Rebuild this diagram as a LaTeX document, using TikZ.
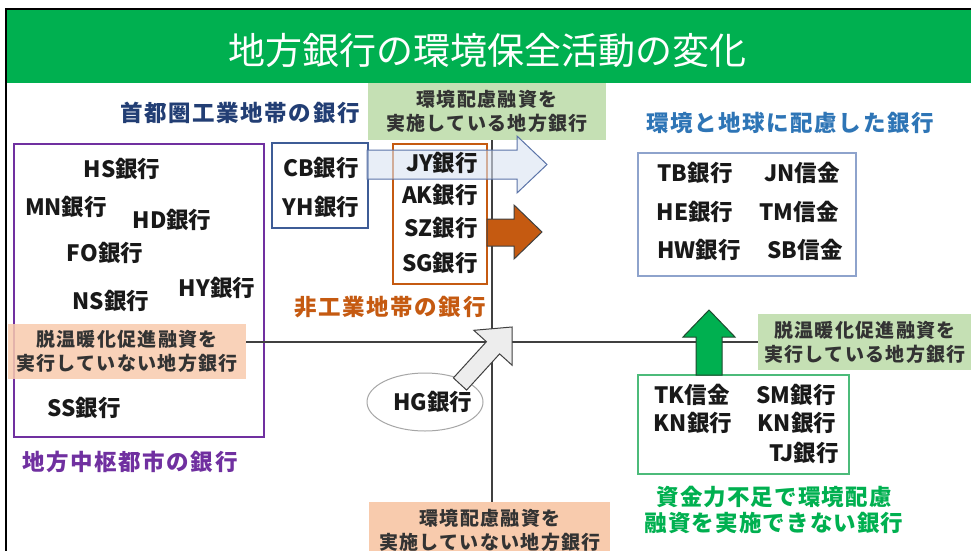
\documentclass[tikz,border=0pt]{standalone}
\usepackage{fontspec}
\setmainfont{Noto Sans CJK JP}
\usetikzlibrary{shapes.geometric}
\definecolor{hdrgreen}{HTML}{00B050}
\definecolor{lightgreen}{HTML}{C5E0B4}
\definecolor{lightorange}{HTML}{F8CBAD}
\definecolor{purp}{HTML}{7030A0}
\definecolor{navy}{HTML}{223E74}
\definecolor{slateblue}{HTML}{3E5C96}
\definecolor{arrowblue}{HTML}{DAE3F3}
\definecolor{arrowedge}{HTML}{5B74A8}
\definecolor{orng}{HTML}{C55A11}
\definecolor{skyblue}{HTML}{2E75B6}
\definecolor{steel}{HTML}{8EA3CC}
\definecolor{boxgreen}{HTML}{4CBB7A}
\definecolor{darkgreen}{HTML}{204A30}
\definecolor{axisgray}{HTML}{404040}
\definecolor{labtext}{HTML}{333333}
\definecolor{lightgray}{HTML}{EDEDED}
\begin{document}
\begin{tikzpicture}[x=1pt,y=-1pt,
  bank/.style={font=\bfseries\fontsize{22.5}{27}\selectfont, inner sep=0pt, text=black!90},
  lab/.style={font=\bfseries\fontsize{19}{24}\selectfont\addfontfeatures{LetterSpace=7}, align=center, inner sep=0pt, text=labtext},
  captext/.style={font=\bfseries\fontsize{22.5}{27}\selectfont\addfontfeatures{LetterSpace=7}, inner sep=0pt, align=center},
  grpbox/.style={inner sep=0pt, line width=1.3pt},
  axisline/.style={draw=axisgray, line width=1.6pt},
  blockarrow/.style={line width=1pt, line join=miter}]
\useasboundingbox (0,0) rectangle (971,551);
\fill[white] (0,0) rectangle (971,551);
% frame and header
\draw[line width=1.6pt, black] (6,551) -- (6,9) -- (971,9);
\fill[hdrgreen] (7,10) rectangle (971,83);
\node[text=white, inner sep=0pt, font=\fontsize{37}{40}\selectfont] (title) at (487,50) {地方銀行の環境保全活動の変化};

% group boxes
\node[grpbox, draw=purp, minimum width=250pt, minimum height=293pt] (pbox) at (139,290.5) {};
\node[grpbox, draw=slateblue, minimum width=96pt, minimum height=85pt] (cbbox) at (320,185.5) {};
\node[grpbox, draw=orng, minimum width=94pt, minimum height=140pt] (obox) at (440,214) {};
\node[grpbox, draw=steel, minimum width=218pt, minimum height=123pt] (rbox) at (747,214.5) {};
\node[grpbox, draw=boxgreen, minimum width=211pt, minimum height=99pt] (gbox) at (743.5,424.5) {};

% axis labels
\node[lab, fill=lightgreen, minimum width=238pt, minimum height=57pt] (toplab) at (487,111.5) {環境配慮融資を\\実施している地方銀行};
\node[lab, fill=lightorange, fill opacity=0.85, text opacity=1, minimum width=238pt, minimum height=55pt] (leftlab) at (127,351.5) {脱温暖化促進融資を\\実行していない地方銀行};
\node[lab, fill=lightgreen, minimum width=214pt, minimum height=56pt] (rightlab) at (865,342) {脱温暖化促進融資を\\実行している地方銀行};
\node[lab, fill=lightorange, minimum width=241pt, minimum height=60pt, text depth=0pt] (botlab) at (489.5,532) {};
\node[lab] (botlabtxt) at (490,530) {環境配慮融資を\\実施していない地方銀行};

% axes
\coordinate (ax) at (492,342);
\draw[axisline] (toplab.south -| ax) -- (botlab.north -| ax);
\draw[axisline] (leftlab.east |- ax) -- (rightlab.west |- ax);

% block arrows
\draw[blockarrow, draw=arrowedge, fill=arrowblue, fill opacity=0.6]
  (367,150) -- (517,150) -- (517,136) -- (547,164.5) -- (517,193) -- (517,179) -- (367,179) -- cycle;
\draw[blockarrow, draw=axisgray, fill=orng]
  (487,219) -- (514,219) -- (514,205) -- (542,232) -- (514,259) -- (514,246) -- (487,246) -- cycle;
\draw[blockarrow, draw=darkgreen, fill=hdrgreen]
  (696,375) -- (696,337) -- (683,337) -- (709,310) -- (735,337) -- (722,337) -- (722,375) -- cycle;

% HG ellipse and its arrow
\node[ellipse, draw=gray!70, fill=white, line width=1pt, minimum width=116pt, minimum height=58pt, inner sep=0pt] (hg) at (425,402) {};
\node[bank] (hgtxt) at (433,402) {HG銀行};
\draw[blockarrow, draw=axisgray, fill=lightgray]
  (453.4,377.9) -- (486.4,341.7) -- (473.8,330.3) -- (512,327) -- (512.2,365.3) -- (499.6,353.9) -- (466.6,390.1) -- cycle;

% captions
\node[captext, text=navy] (capnavy) at (240,113) {首都圏工業地帯の銀行};
\node[captext, text=skyblue] (capblue) at (790,123) {環境と地球に配慮した銀行};
\node[captext, text=orng] (caporange) at (390,307) {非工業地帯の銀行};
\node[captext, text=purp] (cappurple) at (130,462) {地方中枢都市の銀行};
\node[captext, text=hdrgreen, font=\bfseries\fontsize{22.5}{26}\selectfont\addfontfeatures{LetterSpace=5}] (capgreen) at (774,510) {資金力不足で環境配慮\\融資を実施できない銀行};

% bank names: purple group
\node[bank] (hs) at (122,169) {HS銀行};
\node[bank] (mn) at (66,207) {MN銀行};
\node[bank] (hd) at (172,220) {HD銀行};
\node[bank] (fo) at (105,253) {FO銀行};
\node[bank] (hy) at (217,288) {HY銀行};
\node[bank] (ns) at (111,301) {NS銀行};
\node[bank] (ss) at (84,408) {SS銀行};
% CB group
\node[bank] (cb) at (321,168) {CB銀行};
\node[bank] (yh) at (321,207) {YH銀行};
% orange group
\node[bank] (jy) at (442,163) {JY銀行};
\node[bank] (ak) at (440,195) {AK銀行};
\node[bank] (sz) at (441,228) {SZ銀行};
\node[bank] (sg) at (440,263) {SG銀行};
% right group
\node[bank] (tb) at (695,173) {TB銀行};
\node[bank] (jn) at (802,173) {JN信金};
\node[bank] (he) at (695,212) {HE銀行};
\node[bank] (tm) at (799,212) {TM信金};
\node[bank] (hw) at (699,250) {HW銀行};
\node[bank] (sb) at (805,250) {SB信金};
% green group
\node[bank] (tk) at (692,395) {TK信金};
\node[bank] (sm) at (796,395) {SM銀行};
\node[bank] (kn1) at (693,423) {KN銀行};
\node[bank] (kn2) at (797,423) {KN銀行};
\node[bank] (tj) at (804,453) {TJ銀行};
\end{tikzpicture}
\end{document}
